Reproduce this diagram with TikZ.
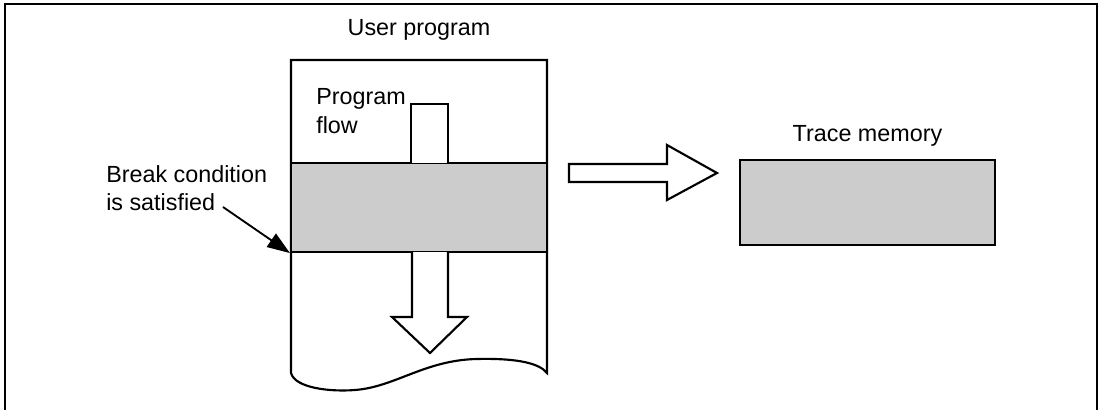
\documentclass[tikz,border=0pt]{standalone}
\usepackage{fontspec}
\setmainfont{Liberation Sans}
\usetikzlibrary{arrows.meta,fit}
\definecolor{bandgray}{HTML}{CCCCCC}

\begin{document}
\begin{tikzpicture}[x=0.75pt,y=-0.75pt,
  txt/.style={font=\fontsize{17.5}{21}\selectfont,inner sep=0pt,align=left},
  box/.style={draw=black,line width=1.6pt,fill=bandgray,inner sep=0pt},
  outl/.style={draw=black,line width=1.6pt,line join=miter},
  arr/.style={-{Triangle[length=17pt,width=12pt]},line width=1.4pt}]
\useasboundingbox (0,0) rectangle (1101,410);
\draw[line width=2pt] (5,410) -- (5,4) -- (1097,4) -- (1097,410);
% user program sheet with torn bottom
\draw[outl] (291,373) -- (291,60) -- (547,60) -- (547,373)
  .. controls (540,364) and (520,358) .. (477,359)
  .. controls (425,360) and (395,387) .. (355,390)
  .. controls (330,392) and (295,388) .. (291,373);
\node[txt,anchor=base] (prog) at (419,36) {User program};
\node[box,fit={(291,163) (547,252)}] (band) {};
% program flow arrow
\draw[outl,fill=white] (411,163) -- (411,104) -- (448,104) -- (448,163);
\draw[outl,fill=white] (412,252) -- (412,317) -- (392,317) -- (430,353) -- (467,317) -- (448,317) -- (448,252);
\node[txt,anchor=base west] (flow) at (316,133) {Program\\flow};
% break condition
\node[txt,anchor=base west] (brk) at (106,210) {Break condition\\is satisfied};
\coordinate (brkend) at (223,207);
\draw[arr] (brkend) -- (band.south west);
% to trace memory
\draw[outl,fill=white] (569,164) -- (667,164) -- (667,145) -- (717,173) -- (667,200) -- (667,182) -- (569,182) -- cycle;
\node[box,fit={(740,160) (995,245)}] (trace) {};
\node[txt,anchor=base] (tlbl) at (trace.north |- 0,142) {Trace memory};
\end{tikzpicture}
\end{document}
